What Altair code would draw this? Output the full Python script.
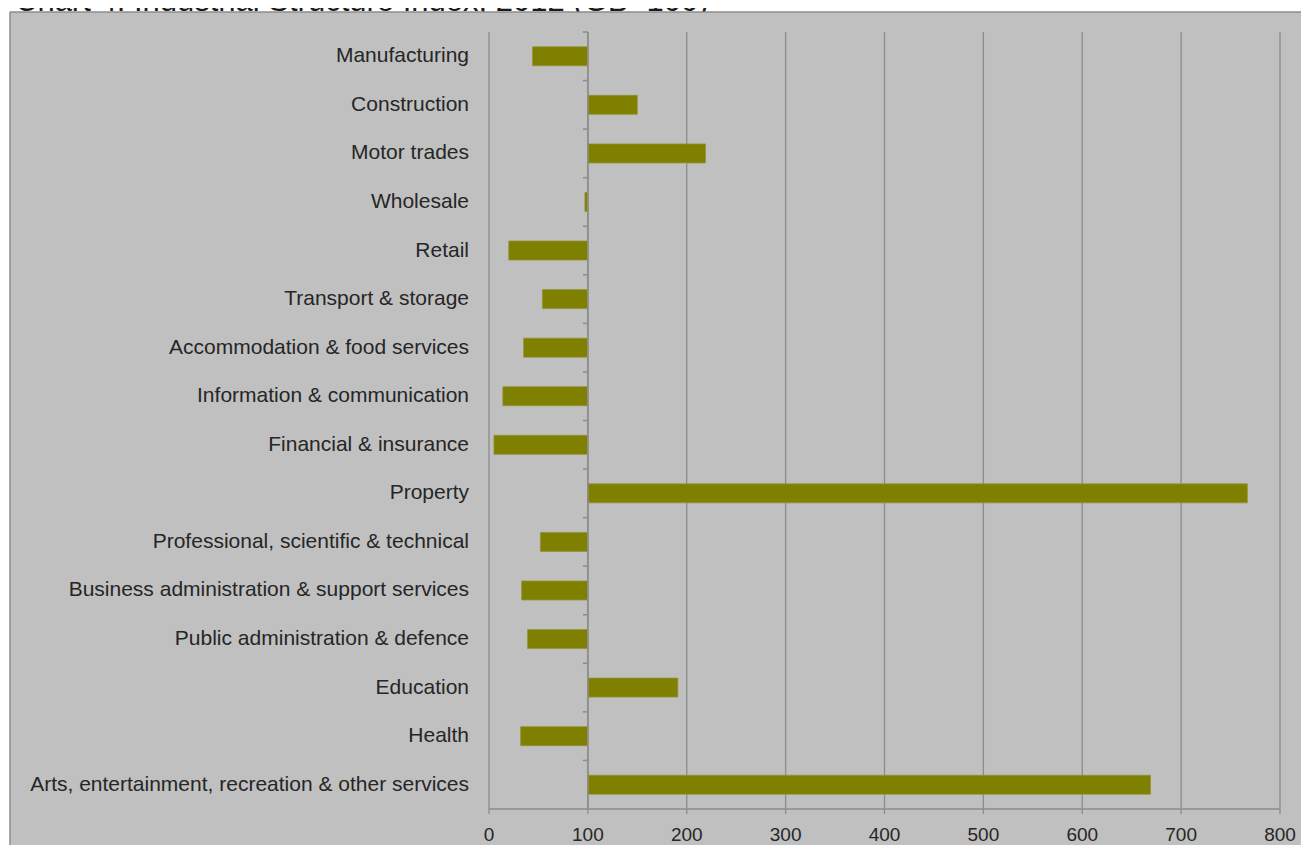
import altair as alt
import pandas as pd

title_text = "Chart 4: Industrial Structure Index, 2012 (GB=100)"
categories = [
    "Manufacturing",
    "Construction",
    "Motor trades",
    "Wholesale",
    "Retail",
    "Transport & storage",
    "Accommodation & food services",
    "Information & communication",
    "Financial & insurance",
    "Property",
    "Professional, scientific & technical",
    "Business administration & support services",
    "Public administration & defence",
    "Education",
    "Health",
    "Arts, entertainment, recreation & other services",
]
values = [44, 150, 219, 97, 20, 54, 35, 14, 5, 767, 52, 33, 39, 191, 32, 669]
baseline = 100
x_ticks = [0, 100, 200, 300, 400, 500, 600, 700, 800]

df = pd.DataFrame({"industry": categories, "index": values, "base": [baseline] * len(values)})
grid_df = pd.DataFrame({"tick": x_ticks})
base_df = pd.DataFrame({"base": [baseline]})
one = pd.DataFrame({"t": [title_text]})

W, H = 791, 777
FONT = "Liberation Sans"
GRID = "#8c8c8c"
TEXT = "#262626"
BG = "#c0c0c0"

xscale = alt.Scale(domain=[0, 800], nice=False, zero=False)
yscale = alt.Scale(domain=categories, paddingInner=0, paddingOuter=0)
X_NONE = dict(scale=xscale, axis=None)

white_top = alt.Chart(one).mark_rect(fill="white").encode(
    x=alt.value(-481), x2=alt.value(1000), y=alt.value(-40), y2=alt.value(-20)
)
white_left = alt.Chart(one).mark_rect(fill="white").encode(
    x=alt.value(-490), x2=alt.value(-479), y=alt.value(-40), y2=alt.value(1000)
)
title = alt.Chart(one).mark_text(
    align="left", baseline="alphabetic", fontSize=31, font=FONT, color="#1a1a1a"
).encode(x=alt.value(-474), y=alt.value(-21.5), text="t:N")
gray_cover = alt.Chart(one).mark_rect(fill=BG).encode(
    x=alt.value(-479), x2=alt.value(1000), y=alt.value(-20), y2=alt.value(-2)
)
frame_top = alt.Chart(one).mark_rule(color=GRID, strokeWidth=1.5).encode(
    x=alt.value(-479), x2=alt.value(1000), y=alt.value(-20)
)
frame_left = alt.Chart(one).mark_rule(color=GRID, strokeWidth=1.5).encode(
    x=alt.value(-479), y=alt.value(-20), y2=alt.value(1000)
)

grid = alt.Chart(grid_df).mark_rule(color=GRID, strokeWidth=1.3).encode(
    x=alt.X("tick:Q", **X_NONE),
    y=alt.value(0),
    y2=alt.value(H + 5),
)

x_domain = alt.Chart(one).mark_rule(color=GRID, strokeWidth=1.5).encode(
    x=alt.value(0), x2=alt.value(W), y=alt.value(H)
)

x_labels = alt.Chart(grid_df).mark_text(
    font=FONT, fontSize=19, color=TEXT, align="center", baseline="middle"
).encode(
    x=alt.X("tick:Q", **X_NONE),
    y=alt.value(H + 26),
    text=alt.Text("tick:Q"),
)

y_labels = alt.Chart(df).mark_text(
    font=FONT, fontSize=21, color=TEXT, align="right", baseline="middle"
).encode(
    x=alt.value(-20),
    y=alt.Y("industry:N", sort=categories, scale=yscale, axis=None),
    text="industry:N",
)

bars = alt.Chart(df).mark_bar(color="#808000", size=19, stroke="#939339", strokeWidth=0.8).encode(
    x=alt.X("index:Q", **X_NONE),
    x2="base:Q",
    y=alt.Y("industry:N", sort=categories, scale=yscale, axis=None),
)

cat_axis = alt.Chart(base_df).mark_rule(color=GRID, strokeWidth=1.5).encode(
    x=alt.X("base:Q", **X_NONE), y=alt.value(0), y2=alt.value(H)
)

cat_ticks = alt.Chart(df).mark_rule(color=GRID, strokeWidth=1.5, x2Offset=-5).encode(
    x=alt.X("base:Q", **X_NONE),
    x2="base:Q",
    y=alt.Y("industry:N", sort=categories, scale=yscale, bandPosition=0, axis=None),
)

chart = alt.layer(
    white_top, white_left, title, gray_cover, frame_top, frame_left,
    grid, x_domain, x_labels, y_labels, bars, cat_axis, cat_ticks,
).properties(
    width=W,
    height=H,
    padding={"left": 481, "top": 24, "right": 21, "bottom": 36},
    autosize=alt.AutoSizeParams(type="none"),
    background=BG,
).configure_view(stroke=None)

chart.save("out.html", embed_options={"renderer": "svg", "actions": False})
